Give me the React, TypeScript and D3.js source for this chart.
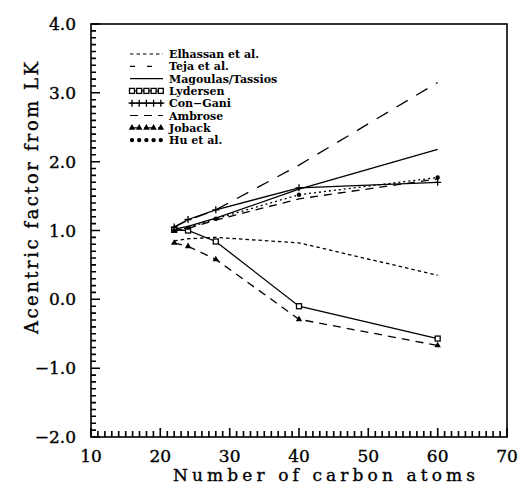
import { useEffect, useRef } from 'react';
import * as d3 from 'd3';

const W = 519;
const H = 485;

// carbon numbers where each method was evaluated
const carbons = [22, 24, 28, 40, 60];

const elhassan = [0.85, 0.88, 0.9, 0.82, 0.35];
const teja = [1.05, 1.15, 1.3, 1.95, 3.15];
const magoulas = [1.02, 1.06, 1.18, 1.6, 2.18];
const lydersen = [1.01, 1.0, 0.84, -0.1, -0.57];
const conGani = [1.05, 1.16, 1.3, 1.62, 1.7];
const ambrose = [1.0, 1.03, 1.15, 1.46, 1.75];
const joback = [0.82, 0.77, 0.58, -0.29, -0.67];
const hu = [1.0, 1.04, 1.17, 1.52, 1.77];

const seriesNames = [
  'Elhassan et al.',
  'Teja et al.',
  'Magoulas/Tassios',
  'Lydersen',
  'Con\u2212Gani',
  'Ambrose',
  'Joback',
  'Hu et al.',
];

const xTicks = [10, 20, 30, 40, 50, 60, 70];
const yTicks = [-2, -1, 0, 1, 2, 3, 4];

type Marker = 'none' | 'square' | 'plus' | 'triangle' | 'dot';

const styles: { dash: string; marker: Marker }[] = [
  { dash: '3.5,3', marker: 'none' },
  { dash: '13,10', marker: 'none' },
  { dash: '', marker: 'none' },
  { dash: '', marker: 'square' },
  { dash: '', marker: 'plus' },
  { dash: '8,6', marker: 'none' },
  { dash: '8,6', marker: 'triangle' },
  { dash: '2,3', marker: 'dot' },
];

const FONT = '"DejaVu Serif", "Liberation Serif", serif';

const App = () => {
  const svgRef = useRef<SVGSVGElement>(null);

  useEffect(() => {
    if (!svgRef.current) return;
    const svg = d3.select(svgRef.current);
    svg.selectAll('*').remove();

    const left = 91, right = 507, top = 24, bottom = 437;
    const x = d3.scaleLinear().domain([10, 70]).range([left, right]);
    const y = d3.scaleLinear().domain([-2, 4]).range([bottom, top]);

    const g = svg.append('g');

    // frame
    g.append('rect')
      .attr('x', left).attr('y', top)
      .attr('width', right - left).attr('height', bottom - top)
      .attr('fill', 'none').attr('stroke', '#000').attr('stroke-width', 1.6);

    // inward ticks: every 0.1 on y, every 1 on x
    const yMinor = d3.range(-20, 41);
    g.append('path')
      .attr('d', yMinor.map(i => `M${left},${y(i / 10).toFixed(1)}h${i % 10 === 0 ? 9 : 5}`).join(''))
      .attr('fill', 'none')
      .attr('stroke', '#000')
      .attr('stroke-width', 1.6);

    const xMinor = d3.range(10, 71);
    g.append('path')
      .attr('d', xMinor.map(v => `M${x(v).toFixed(1)},${bottom}v${v % 10 === 0 ? -9 : -6}`).join(''))
      .attr('fill', 'none')
      .attr('stroke', '#000')
      .attr('stroke-width', 1.6);

    const labelStyle = (sel: any, size: number) =>
      sel.style('font-family', FONT)
        .style('font-size', `${size}px`)
        .attr('stroke', '#000')
        .attr('stroke-width', 0.35)
        .attr('fill', '#000');

    g.selectAll('.xt')
      .data(xTicks)
      .enter()
      .append('text')
      .attr('x', d => x(d))
      .attr('y', 462)
      .attr('text-anchor', 'middle')
      .call(labelStyle, 17)
      .text(d => d);

    g.selectAll('.yt')
      .data(yTicks)
      .enter()
      .append('text')
      .attr('x', left - 15)
      .attr('y', d => y(d) + 6)
      .attr('text-anchor', 'end')
      .call(labelStyle, 17)
      .text(d => (d < 0 ? '\u2212' : '') + Math.abs(d).toFixed(1));

    g.append('text')
      .attr('x', 324)
      .attr('y', 481)
      .attr('text-anchor', 'middle')
      .attr('textLength', 302)
      .attr('lengthAdjust', 'spacing')
      .call(labelStyle, 17)
      .text('Number of carbon atoms');

    g.append('text')
      .attr('transform', 'translate(38,198) rotate(-90)')
      .attr('text-anchor', 'middle')
      .attr('textLength', 272)
      .attr('lengthAdjust', 'spacing')
      .call(labelStyle, 18)
      .text('Acentric factor from LK');

    const all = [elhassan, teja, magoulas, lydersen, conGani, ambrose, joback, hu];

    const drawMarker = (sel: any, m: Marker, px: number, py: number) => {
      if (m === 'square') {
        sel.append('rect')
          .attr('x', px - 2.5).attr('y', py - 2.5)
          .attr('width', 5).attr('height', 5)
          .attr('fill', '#fff').attr('stroke', '#000').attr('stroke-width', 1.3);
      } else if (m === 'plus') {
        sel.append('path')
          .attr('d', `M${px - 3.5},${py}H${px + 3.5}M${px},${py - 3.5}V${py + 3.5}`)
          .attr('stroke', '#000').attr('stroke-width', 1.3);
      } else if (m === 'triangle') {
        sel.append('path')
          .attr('d', d3.symbol(d3.symbolTriangle, 18)() as string)
          .attr('transform', `translate(${px},${py})`)
          .attr('fill', '#000');
      } else if (m === 'dot') {
        sel.append('circle')
          .attr('cx', px).attr('cy', py).attr('r', 2.2)
          .attr('fill', '#000');
      }
    };

    const line = d3.line<number>()
      .x((_, i) => x(carbons[i]))
      .y(d => y(d));

    all.forEach((vals, si) => {
      const st = styles[si];
      g.append('path')
        .datum(vals)
        .attr('d', line)
        .attr('fill', 'none')
        .attr('stroke', '#000')
        .attr('stroke-width', 1.3)
        .attr('stroke-dasharray', st.dash || null);
      vals.forEach((v, i) => drawMarker(g, st.marker, x(carbons[i]), y(v)));
    });

    // legend
    const lg = g.append('g');
    seriesNames.forEach((name, i) => {
      const ly = 54 + i * 12.3;
      const st = styles[i];
      const x0 = 130, x1 = 163;
      if (st.marker === 'dot') {
        d3.range(5).forEach(k => drawMarker(lg, 'dot', x0 + 2 + k * 7.2, ly));
      } else {
        lg.append('line')
          .attr('x1', x0).attr('x2', x1)
          .attr('y1', ly).attr('y2', ly)
          .attr('stroke', '#000')
          .attr('stroke-width', 1.2)
          .attr('stroke-dasharray', i === 1 ? '5,12' : st.dash || null);
        if (st.marker !== 'none') {
          d3.range(5).forEach(k => drawMarker(lg, st.marker, x0 + 2 + k * 7.2, ly));
        }
      }
      lg.append('text')
        .attr('x', 169)
        .attr('y', ly + 4)
        .style('font-family', FONT)
        .style('font-size', '11px')
        .style('font-weight', 'bold')
        .text(name);
    });
  }, []);

  return (
    <svg
      ref={svgRef}
      width={W}
      height={H}
      style={{ position: 'absolute', left: 0, top: 0, background: '#fff' }}
    />
  );
};

export default App;
